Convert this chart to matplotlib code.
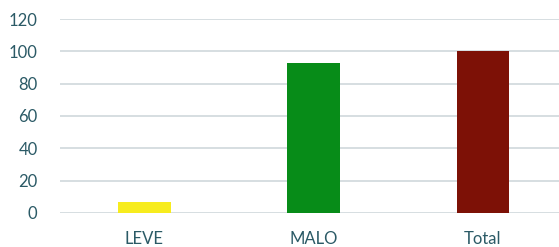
import matplotlib.pyplot as plt

categorias = ['LEVE', 'MALO', 'Total']
valores = [7, 93, 100]
colores = ['#f7ec1e', '#078c18', '#7d1106']

plt.rcParams['font.family'] = ['Lato', 'DejaVu Sans']

fig = plt.figure(figsize=(5.59, 2.47), dpi=100)
ax = fig.add_axes([0.107, 0.138, 0.893, 0.785])

x = range(len(categorias))
ax.bar(x, valores, width=0.31, color=colores, zorder=3)

ax.set_ylim(0, 120)
ax.set_xlim(-0.5, 2.45)
ax.set_yticks(range(0, 121, 20))
ax.set_xticks(list(x))
ax.set_xticklabels(categorias)
ax.yaxis.grid(True, color='#cfd8dc', linewidth=1.2, zorder=0)
ax.set_axisbelow(True)

for s in ax.spines.values():
    s.set_visible(False)
ax.tick_params(axis='both', length=0, colors='#2b5a66', labelsize=12)
ax.tick_params(axis='y', pad=16)
ax.tick_params(axis='x', pad=13)

fig.savefig('out.png', dpi=100)
